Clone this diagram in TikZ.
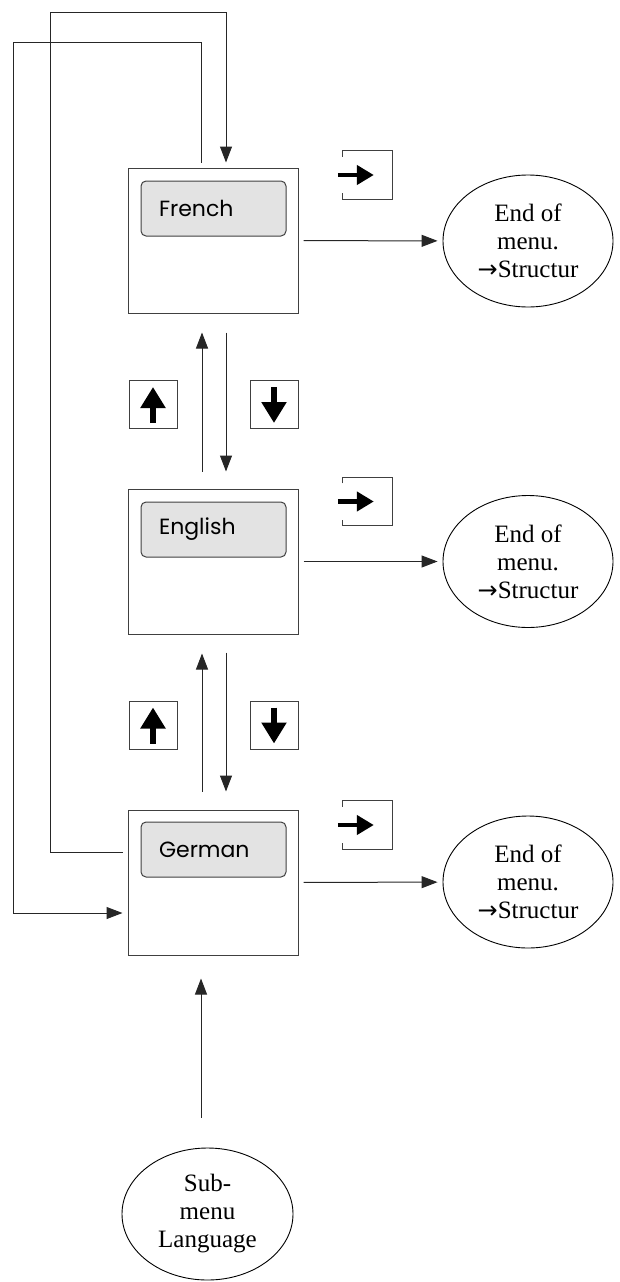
\documentclass[tikz,border=0pt]{standalone}
\usepackage{fontspec}
\setmainfont{Liberation Serif}
\newfontfamily\lcdfont{Poppins}
\newfontfamily\symfont{DejaVu Sans}
\usetikzlibrary{shapes.geometric, arrows.meta, positioning}

\begin{document}
\begin{tikzpicture}[x=1pt, y=-1pt,
  menubox/.style={draw=black!75, line width=1pt, minimum width=170pt, minimum height=145pt, inner sep=0pt},
  lcd/.style={draw=black!75, line width=1pt, fill=gray!22, rounded corners=5pt, minimum height=55pt, text width=109pt, inner xsep=18pt, inner ysep=0pt, align=left, font=\lcdfont\fontsize{22}{24}\selectfont},
  endmenu/.style={ellipse, draw, line width=0.9pt, minimum width=170pt, minimum height=132pt, inner sep=0pt, align=center, font=\fontsize{25}{28}\selectfont},
  keybox/.style={draw=black!75, line width=1pt, minimum size=48pt, inner sep=0pt},
  enterkey/.style={minimum width=49pt, minimum height=48pt, inner sep=0pt},
  keyframe/.style={draw=black!75, line width=1pt},
  arrow/.style={-{Triangle[length=16pt, width=12pt]}, line width=1pt, draw=black!85},
  keyicon/.style={-{Triangle[length=21pt, width=24pt]}, line width=5.5pt},
  entericon/.style={-{Triangle[length=17pt, width=19pt]}, line width=4.5pt}
]
\useasboundingbox (0,0) rectangle (620,1282);

% Menu boxes
\node[menubox] (french)  at (213, 240.5) {};
\node[menubox] (english) at (213, 561.5) {};
\node[menubox] (german)  at (213, 882.5) {};

% Display lines
\node[lcd] (frenchlcd)  at (213.5, 208.5) {French};
\node[lcd] (englishlcd) at (213.5, 529.5) {English};
\node[lcd] (germanlcd)  at (213.5, 849.5) {German};

% End of menu
\node[endmenu] (frenchend)  at (528, 241)   {End of\\menu.\\{\symfont\fontsize{24}{28}\selectfont →}Structur};
\node[endmenu] (englishend) at (528, 561.5) {End of\\menu.\\{\symfont\fontsize{24}{28}\selectfont →}Structur};
\node[endmenu] (germanend)  at (528, 882)   {End of\\menu.\\{\symfont\fontsize{24}{28}\selectfont →}Structur};

% Sub-menu
\node[endmenu, minimum width=171pt] (submenu) at (207.5, 1214) {Sub-\\menu\\Language};

% Up/down keys
\node[keybox] (up1)   at (153, 404.5) {};
\node[keybox] (down1) at (274, 404.5) {};
\node[keybox] (up2)   at (153, 725)   {};
\node[keybox] (down2) at (274, 725)   {};
\draw[keyicon] ([yshift=6pt]up1.south) -- ([yshift=-7pt]up1.north);
\draw[keyicon] ([yshift=-7pt]down1.north) -- ([yshift=6pt]down1.south);
\draw[keyicon] ([yshift=6pt]up2.south) -- ([yshift=-7pt]up2.north);
\draw[keyicon] ([yshift=-7pt]down2.north) -- ([yshift=6pt]down2.south);

% Enter keys
\node[enterkey] (enter1) at (367.5, 175)   {};
\node[enterkey] (enter2) at (367.5, 501.5) {};
\node[enterkey] (enter3) at (367.5, 825)   {};
\draw[keyframe] ([yshift=-6pt]enter1.north west) -- (enter1.north west) -- (enter1.north east) -- (enter1.south east) -- (enter1.south west) -- ([yshift=6pt]enter1.south west);
\draw[keyframe] ([yshift=-6pt]enter2.north west) -- (enter2.north west) -- (enter2.north east) -- (enter2.south east) -- (enter2.south west) -- ([yshift=6pt]enter2.south west);
\draw[keyframe] ([yshift=-6pt]enter3.north west) -- (enter3.north west) -- (enter3.north east) -- (enter3.south east) -- (enter3.south west) -- ([yshift=6pt]enter3.south west);
\draw[entericon] ([xshift=-5pt]enter1.west) -- ([xshift=31pt]enter1.west);
\draw[entericon] ([xshift=-5pt]enter2.west) -- ([xshift=31pt]enter2.west);
\draw[entericon] ([xshift=-5pt]enter3.west) -- ([xshift=31pt]enter3.west);

% Arrows box -> end of menu
\draw[arrow, shorten <=5pt, shorten >=5pt] (french) -- (frenchend);
\draw[arrow, shorten <=5pt, shorten >=5pt] (english) -- (englishend);
\draw[arrow, shorten <=5pt, shorten >=5pt] (german) -- (germanend);

% Arrows up/down
\draw[arrow, shorten <=17pt, shorten >=19pt] ([xshift=-11pt]english.north) -- ([xshift=-11pt]french.south);
\draw[arrow, shorten <=19pt, shorten >=17pt] ([xshift=13pt]french.south) -- ([xshift=13pt]english.north);
\draw[arrow, shorten <=18pt, shorten >=19pt] ([xshift=-11pt]german.north) -- ([xshift=-11pt]english.south);
\draw[arrow, shorten <=18pt, shorten >=18pt] ([xshift=13pt]english.south) -- ([xshift=13pt]german.north);

% Wrap-around on the left
\coordinate (wraplow)  at (13, 42);
\coordinate (wraphigh) at (50, 12);
\draw[arrow] ([xshift=-12pt, yshift=5pt]french.north) |- (wraplow) |- ([xshift=-5pt, yshift=-30.5pt]german.west);
\draw[arrow] ([xshift=-5pt, yshift=30.5pt]german.west) -| (wraphigh) -| ([xshift=13pt, yshift=5pt]french.north);

% Sub-menu -> German
\coordinate (gentry) at ([xshift=-12pt]german.south);
\draw[arrow, shorten <=30pt, shorten >=23pt] (submenu.north -| gentry) -- (gentry);

\end{tikzpicture}
\end{document}
